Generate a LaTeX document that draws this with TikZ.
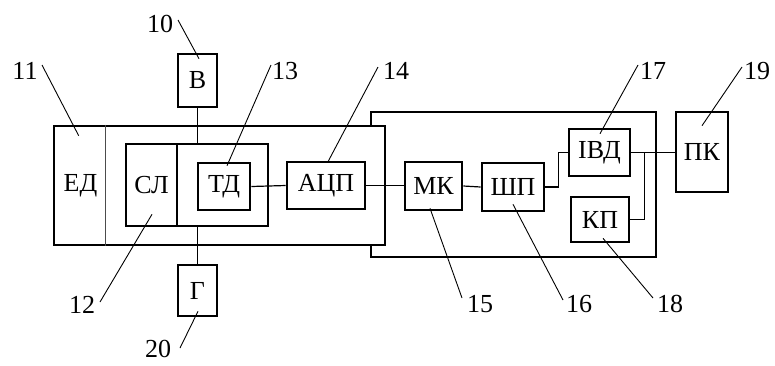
\documentclass[tikz,border=0pt]{standalone}
\usepackage{fontspec}
\setmainfont{Liberation Serif}
\usetikzlibrary{calc}
\begin{document}
\begin{tikzpicture}[x=1pt,y=-1pt,
 box/.style={draw, line width=2.6pt, inner sep=0pt, font=\fontsize{26}{28}\selectfont},
 num/.style={inner sep=0pt, font=\fontsize{26}{28}\selectfont},
 wire/.style={line width=1.2pt},
 lead/.style={line width=0.9pt}]
\useasboundingbox[fill=white] (0,0) rectangle (775,365);
% big enclosures
\node[box, minimum width=285pt, minimum height=145pt] (rbox) at (513.5,184.5) {};
\node[box, fill=white, minimum width=331pt, minimum height=119pt] (lbox) at (219.5,185.5) {};
\draw[line width=1pt, black!70] ($(lbox.north west)+(53,0)$) -- ($(lbox.south west)+(53,0)$);
\node[num] (ed) at (80.5,185.5) {ЕД};
% inner blocks
\node[box, minimum width=51pt, minimum height=82pt] (sl) at (151.5,185) {СЛ};
\node[box, minimum width=91pt, minimum height=82pt] (tdo) at (222.5,185) {};
\node[box, minimum width=52pt, minimum height=47pt] (td) at (224,186.5) {ТД};
\node[box, minimum width=78pt, minimum height=47pt] (adc) at (326,185.5) {АЦП};
\node[box, minimum width=39pt, minimum height=53pt] (v) at (197.5,80.5) {В};
\node[box, minimum width=39pt, minimum height=51pt] (g) at (197.5,290.5) {Г};
\node[box, minimum width=57pt, minimum height=48pt] (mk) at (433.5,186) {МК};
\node[box, minimum width=62pt, minimum height=48pt] (shp) at (513,187) {ШП};
\node[box, minimum width=61pt, minimum height=47pt] (ivd) at (599.5,152.5) {ІВД};
\node[box, minimum width=58pt, minimum height=45pt] (kp) at (600,219.5) {КП};
\node[box, minimum width=52pt, minimum height=80pt] (pk) at (702,152) {ПК};
% wires
\draw[wire] (td.east) -- (adc.west);
\draw[wire] (adc.east) -- (adc.east -| mk.west);
\draw[wire] (mk.east) -- (shp.west);
\draw[wire] (shp.east) -- ++(13,0) |- (ivd.west);
\draw[wire] (ivd.east) -- (ivd.east -| pk.west);
\draw[wire] (kp.east) -- ++(14,0) coordinate (j) -- (j |- ivd.east);
\draw[wire] (v.south) -- (v.south |- tdo.north);
\draw[wire] (tdo.south -| g.north) -- (g.north);
% reference numbers
\node[num] (n10) at (160,24) {10};
\node[num] (n11) at (25,71) {11};
\node[num] (n13) at (285,71) {13};
\node[num] (n14) at (396,71) {14};
\node[num] (n17) at (653,71) {17};
\node[num] (n19) at (757,71) {19};
\node[num] (n12) at (82,305) {12};
\node[num] (n20) at (158,349) {20};
\node[num] (n15) at (480,304) {15};
\node[num] (n16) at (579,304) {16};
\node[num] (n18) at (670,304) {18};
\draw[lead] ($(n10)+(18,-4)$) -- ($(v.north)+(1.5,6)$);
\draw[lead] ($(n11)+(17,-6)$) -- ($(lbox.north west)+(26,11)$);
\draw[lead] ($(n13)+(-14,-6)$) -- ($(td.north)+(3,4)$);
\draw[lead] ($(n14)+(-18,-4)$) -- ($(adc.north)+(2,1)$);
\draw[lead] ($(n17)+(-15,-6)$) -- ($(ivd.north)+(0.5,6)$);
\draw[lead] ($(n19)+(-15,-4)$) -- ($(pk.north)+(0,15)$);
\draw[lead] ($(n12)+(18,-3)$) -- ($(sl.south)+(0.5,-13)$);
\draw[lead] ($(n20)+(22,-1)$) -- ($(g.south)+(0.5,-6)$);
\draw[lead] ($(n15)+(-18,-6)$) -- ($(mk.south)+(-3.5,-3)$);
\draw[lead] ($(n16)+(-16,-4)$) -- ($(shp.south)+(0,-8)$);
\draw[lead] ($(n18)+(-17,-6)$) -- ($(kp.south)+(3,-5)$);
\end{tikzpicture}
\end{document}
